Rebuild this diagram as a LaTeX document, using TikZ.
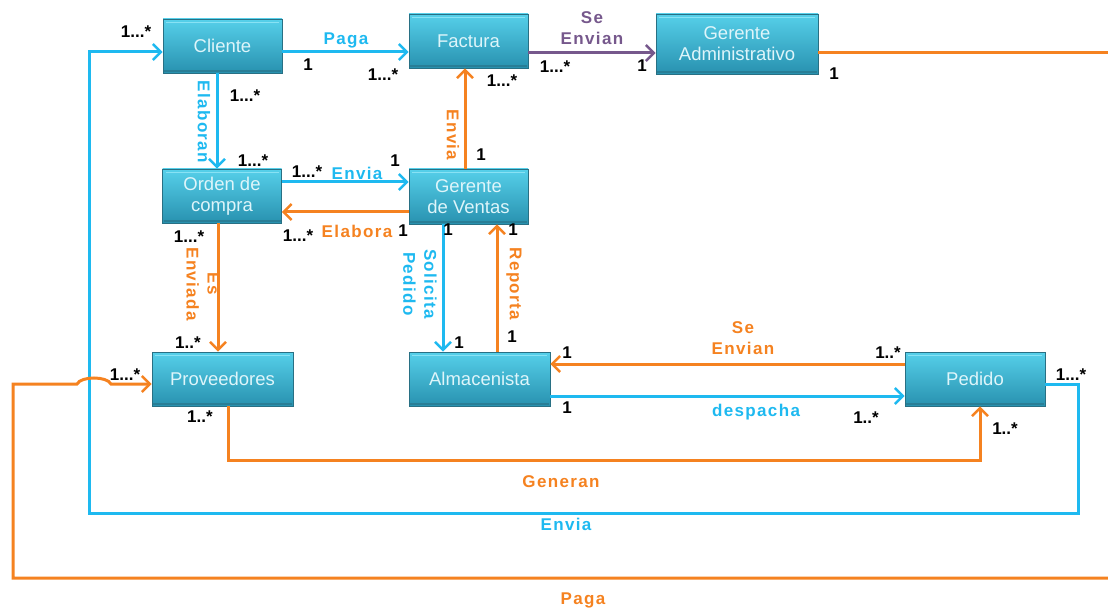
\documentclass[tikz,border=0pt]{standalone}
\usepackage{fontspec}
\setmainfont{Liberation Sans}
\newfontfamily\lblfont[LetterSpace=8]{Liberation Sans}
\usetikzlibrary{arrows.meta}
\definecolor{cBlue}{RGB}{30,185,240}
\definecolor{cOrange}{RGB}{245,130,32}
\definecolor{cPurple}{RGB}{118,88,140}
\definecolor{boxTop}{RGB}{86,208,234}
\definecolor{boxBot}{RGB}{40,145,175}
\definecolor{boxEdge}{RGB}{40,112,132}
\definecolor{boxHl}{RGB}{150,232,248}
\definecolor{boxText}{RGB}{222,245,250}
\begin{document}
\begin{tikzpicture}[x=1pt,y=-1pt,
  entity/.style={rectangle, minimum width=119pt, minimum height=54pt,
    top color=boxTop, bottom color=boxBot, draw=boxEdge, line width=0.8pt,
    text=boxText, font=\fontsize{18.5}{21}\selectfont, align=center, inner sep=2pt,
    path picture={\draw[boxHl, line width=0.8pt, opacity=0.8]
      ([xshift=3pt,yshift=-3pt]path picture bounding box.north west) --
      ([xshift=-3pt,yshift=-3pt]path picture bounding box.north east);
      \draw[boxEdge, line width=1.5pt, opacity=0.6]
      ([xshift=1pt,yshift=2pt]path picture bounding box.south west) --
      ([xshift=-1pt,yshift=2pt]path picture bounding box.south east);}},
  conn/.style={line width=3pt, -{Straight Barb[length=8pt,width=16pt,line width=2.4pt]}},
  plain/.style={line width=3pt},
  lbl/.style={font=\lblfont\bfseries\fontsize{17}{21}\selectfont, align=center, inner sep=0pt},
  num/.style={font=\bfseries\fontsize{17}{19}\selectfont, text=black, inner sep=0pt}
]
\useasboundingbox (0,0) rectangle (1108,612);

% entities
\node[entity] (cli) at (222.5,46) {Cliente};
\node[entity] (fac) at (468.5,41) {Factura};
\node[entity, minimum width=162pt, minimum height=60pt] (gadm) at (737,44) {Gerente\\Administrativo};
\node[entity] (ord) at (222,196) {Orden de\\compra};
\node[entity, minimum height=55pt] (gdv) at (468.5,196.5) {Gerente\\de Ventas};
\node[entity, minimum width=141pt] (prov) at (222.5,379) {Proveedores};
\node[entity, minimum width=141pt] (alm) at (479.5,379) {Almacenista};
\node[entity, minimum width=140pt] (ped) at (975,379) {Pedido};

\coordinate (gaR) at (1108,53);
\coordinate (pagaR) at (1108,578);

% connectors
\draw[conn, cBlue] (cli.east |- 0,52) -- (fac.west |- 0,52);
\draw[conn, cPurple] (fac.east |- 0,53) -- (gadm.west |- 0,53);
\draw[plain, cOrange] (gadm.east |- 0,53) -- (gaR);
\draw[conn, cBlue] (cli.south -| 217,0) -- (ord.north -| 217,0);
\draw[conn, cBlue] (ord.east |- 0,182) -- (gdv.west |- 0,182);
\draw[conn, cOrange] (gdv.west |- 0,212) -- (ord.east |- 0,212);
\draw[conn, cOrange] (gdv.north -| 465,0) -- (fac.south -| 465,0);
\draw[conn, cOrange] (ord.south -| 218,0) -- (prov.north -| 218,0);
\draw[conn, cBlue] (gdv.south -| 443,0) -- (alm.north -| 443,0);
\draw[conn, cOrange] (alm.north -| 497,0) -- (gdv.south -| 497,0);
\draw[conn, cOrange] (ped.west |- 0,364) -- (alm.east |- 0,364);
\draw[conn, cBlue] (alm.east |- 0,396) -- (ped.west |- 0,396);
\draw[conn, cOrange] (prov.south -| 228,0) |- (980,460) -- (ped.south -| 980,0);
\draw[conn, cBlue] ([yshift=-5pt]ped.east) -| (1078,513) -| (89,52) -- (cli.west |- 0,52);
\draw[conn, cOrange] (pagaR) -- (13,578) -- (13,384) -- (77,384)
  .. controls (81,376) and (107,376) .. (111,384) -- (prov.west |- 0,384);

% connector labels
\node[lbl, text=cBlue] (lPaga) at (346,40) {Paga};
\node[lbl, text=cPurple] (lSeEnv1) at (592,28) {Se\\Envian};
\node[lbl, text=cBlue, rotate=-90] (lElaboran) at (204,122) {Elaboran};
\node[lbl, text=cBlue] (lEnvia1) at (357,173) {Envia};
\node[lbl, text=cOrange] (lElabora) at (357,231) {Elabora};
\node[lbl, text=cOrange, rotate=-90] (lEnvia2) at (453,135) {Envia};
\node[lbl, text=cOrange, rotate=-90] (lEsEnv) at (203,284) {Es\\Enviada};
\node[lbl, text=cBlue, rotate=-90] (lSolic) at (420,284) {Solicita\\Pedido};
\node[lbl, text=cOrange, rotate=-90] (lRep) at (514,284) {Reporta};
\node[lbl, text=cOrange] (lSeEnv2) at (743,338) {Se\\Envian};
\node[lbl, text=cBlue] (lDesp) at (756,412) {despacha};
\node[lbl, text=cOrange] (lGen) at (561,482) {Generan};
\node[lbl, text=cBlue] (lEnvia3) at (566,524) {Envia};
\node[lbl, text=cOrange] (lPaga2) at (583,600) {Paga};

% multiplicities
\node[num] at (136,32) {1...*};
\node[num] at (308,65) {1};
\node[num] at (383,75) {1...*};
\node[num] at (245,96) {1...*};
\node[num] at (502,81) {1...*};
\node[num] at (555,67) {1...*};
\node[num] at (642,66) {1};
\node[num] at (834,74) {1};
\node[num] at (253,161) {1...*};
\node[num] at (307,172) {1...*};
\node[num] at (395,161) {1};
\node[num] at (298,236) {1...*};
\node[num] at (403,231) {1};
\node[num] at (189,237) {1...*};
\node[num] at (481,155) {1};
\node[num] at (448,230) {1};
\node[num] at (513,230) {1};
\node[num] at (188,343) {1..*};
\node[num] at (459,343) {1};
\node[num] at (512,337) {1};
\node[num] at (125,375) {1...*};
\node[num] at (200,417) {1..*};
\node[num] at (567,353) {1};
\node[num] at (567,408) {1};
\node[num] at (888,353) {1..*};
\node[num] at (866,418) {1..*};
\node[num] at (1005,429) {1..*};
\node[num] at (1071,375) {1...*};
\end{tikzpicture}
\end{document}
